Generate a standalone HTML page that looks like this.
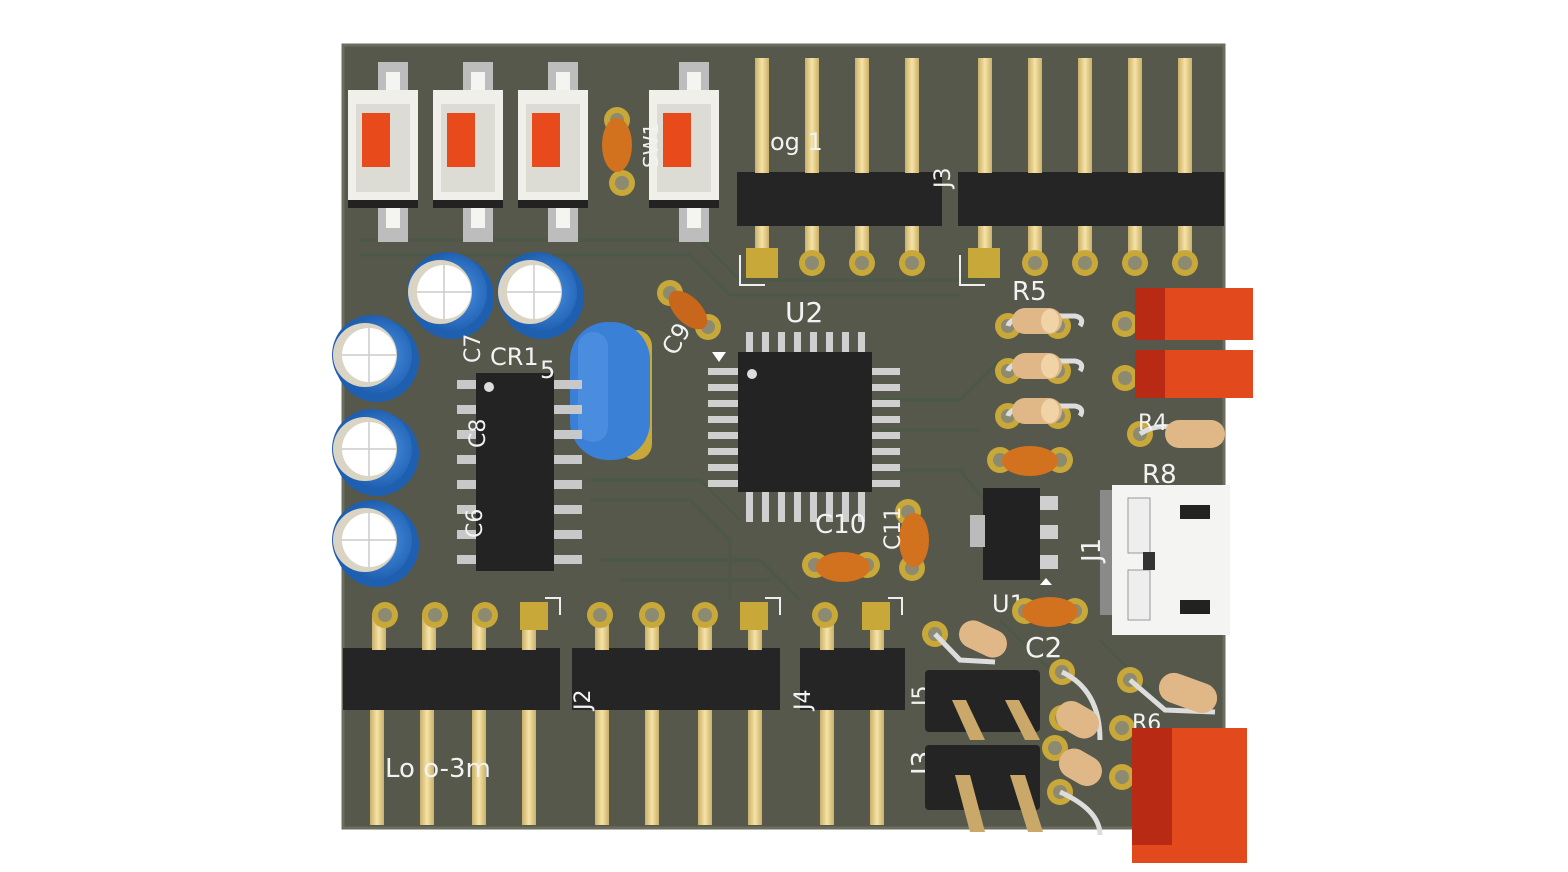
<!DOCTYPE html>
<html><head><style>
html,body{margin:0;padding:0;background:#fff;width:1568px;height:872px;overflow:hidden}
svg{display:block}
text{font-family:"DejaVu Sans","Liberation Sans",sans-serif;fill:#f2f2f2}
</style></head><body>
<svg width="1568" height="872" viewBox="0 0 1568 872" xmlns="http://www.w3.org/2000/svg">
<defs>
<linearGradient id="gold" x1="0" x2="1"><stop offset="0" stop-color="#c9b06a"/><stop offset=".5" stop-color="#f6e3a6"/><stop offset="1" stop-color="#c9b06a"/></linearGradient>
<radialGradient id="blue" cx=".6" cy=".5"><stop offset="0" stop-color="#4f97e8"/><stop offset="1" stop-color="#1f5fb0"/></radialGradient>
<g id="pad"><circle r="13" fill="#c9a83a"/><circle r="7" fill="#8c8a70"/></g>
</defs>
<!-- board -->
<rect x="343" y="45" width="881" height="783" fill="#55584a"/>
<rect x="343" y="45" width="881" height="783" fill="none" stroke="#6b6e5e" stroke-width="3"/>
<g stroke="#4a5a48" stroke-width="3" fill="none" opacity=".8">
<path d="M360 240 L700 240 L740 280 L980 280"/><path d="M360 255 L690 255 L730 295 L960 295"/>
<path d="M590 480 L700 480 L740 520"/><path d="M590 500 L690 500 L730 540 L730 600"/>
<path d="M600 560 L760 560 L800 600"/><path d="M620 580 L770 580"/>
<path d="M880 400 L960 400 L1000 360"/><path d="M880 430 L980 430"/><path d="M900 470 L960 470 L1000 520"/>
<path d="M1100 640 L1160 700 L1200 700"/><path d="M1000 620 L1060 680"/>
</g>
<!-- buttons -->
<g id="btn">
<rect x="378" y="62" width="30" height="30" fill="#bdbdbd"/><rect x="378" y="206" width="30" height="36" fill="#bdbdbd"/>
<rect x="386" y="72" width="14" height="20" fill="#f4f4f0"/><rect x="386" y="206" width="14" height="22" fill="#f4f4f0"/>
<rect x="348" y="90" width="70" height="116" fill="#f0efea"/>
<rect x="348" y="200" width="70" height="8" fill="#222"/>
<rect x="356" y="104" width="54" height="88" fill="#dcdbd4"/>
<rect x="362" y="113" width="28" height="54" fill="#e84a1c"/>
</g>
<use href="#btn" x="85"/><use href="#btn" x="170"/><use href="#btn" x="301"/>
<!-- small orange cap top -->
<use href="#pad" x="622" y="183"/><use href="#pad" x="617" y="120"/>
<ellipse cx="617" cy="145" rx="15" ry="27" fill="#d2711e"/>
<text x="632" y="178" font-size="20" transform="rotate(-90 640 160)">SW1</text>
<!-- top headers -->
<g>
<rect x="737" y="172" width="205" height="54" fill="#252525"/>
<rect x="958" y="172" width="266" height="54" fill="#252525"/>
<g fill="url(#gold)">
<rect x="755" y="58" width="14" height="115"/><rect x="805" y="58" width="14" height="115"/><rect x="855" y="58" width="14" height="115"/><rect x="905" y="58" width="14" height="115"/>
<rect x="978" y="58" width="14" height="115"/><rect x="1028" y="58" width="14" height="115"/><rect x="1078" y="58" width="14" height="115"/><rect x="1128" y="58" width="14" height="115"/><rect x="1178" y="58" width="14" height="115"/>
<rect x="755" y="226" width="14" height="36"/><rect x="805" y="226" width="14" height="36"/><rect x="855" y="226" width="14" height="36"/><rect x="905" y="226" width="14" height="36"/>
<rect x="978" y="226" width="14" height="36"/><rect x="1028" y="226" width="14" height="36"/><rect x="1078" y="226" width="14" height="36"/><rect x="1128" y="226" width="14" height="36"/><rect x="1178" y="226" width="14" height="36"/>
</g>
<rect x="746" y="248" width="32" height="30" fill="#c9a83a"/><rect x="968" y="248" width="32" height="30" fill="#c9a83a"/>
<use href="#pad" x="812" y="263"/><use href="#pad" x="862" y="263"/><use href="#pad" x="912" y="263"/>
<use href="#pad" x="1035" y="263"/><use href="#pad" x="1085" y="263"/><use href="#pad" x="1135" y="263"/><use href="#pad" x="1185" y="263"/>
<path d="M740 255 V285 H765" stroke="#eee" stroke-width="2" fill="none"/><path d="M960 255 V285 H985" stroke="#eee" stroke-width="2" fill="none"/>
<text x="770" y="150" font-size="24">og 1</text>
<text x="932" y="190" font-size="22" transform="rotate(-90 940 180)">J3</text>
</g>
<!-- electrolytic caps -->
<g id="ecap"><circle cx="452" cy="297" r="42" fill="#1f5fb0"/><circle cx="447" cy="292" r="40" fill="url(#blue)"/><circle cx="440" cy="292" r="32" fill="#d9d4c4"/><circle cx="444" cy="292" r="27" fill="#fff"/><path d="M444 265 V319 M417 292 H471" stroke="#ccc" stroke-width="1.5"/></g>
<use href="#ecap" x="90"/>
<use href="#ecap" x="-75" y="63"/><use href="#ecap" x="-75" y="157"/><use href="#ecap" x="-75" y="248"/>
<!-- blue crystal -->
<rect x="620" y="330" width="32" height="130" rx="16" fill="#c9a83a"/>
<rect x="570" y="322" width="80" height="138" rx="38" fill="#3a80d6"/>
<rect x="578" y="332" width="30" height="110" rx="15" fill="#5a9ae6" opacity=".5"/>
<!-- SOIC -->
<g fill="#c8c8c8">
<rect x="457" y="380" width="20" height="9"/><rect x="457" y="405" width="20" height="9"/><rect x="457" y="430" width="20" height="9"/><rect x="457" y="455" width="20" height="9"/><rect x="457" y="480" width="20" height="9"/><rect x="457" y="505" width="20" height="9"/><rect x="457" y="530" width="20" height="9"/><rect x="457" y="555" width="20" height="9"/>
<rect x="552" y="380" width="30" height="9"/><rect x="552" y="405" width="30" height="9"/><rect x="552" y="430" width="30" height="9"/><rect x="552" y="455" width="30" height="9"/><rect x="552" y="480" width="30" height="9"/><rect x="552" y="505" width="30" height="9"/><rect x="552" y="530" width="30" height="9"/><rect x="552" y="555" width="30" height="9"/>
</g>
<rect x="476" y="373" width="78" height="198" fill="#232323"/>
<circle cx="489" cy="387" r="5" fill="#ddd"/>
<text x="490" y="365" font-size="24">CR1</text><text x="540" y="378" font-size="24">5</text>
<text x="472" y="385" font-size="22" transform="rotate(-90 465 370)">C7</text>
<text x="472" y="475" font-size="22" transform="rotate(-90 465 455)">C8</text>
<text x="472" y="562" font-size="22" transform="rotate(-90 465 545)">C6</text>
<!-- C9 cap -->
<use href="#pad" x="670" y="293"/><use href="#pad" x="708" y="327"/>
<ellipse cx="688" cy="310" rx="13" ry="24" fill="#c8661c" transform="rotate(-45 688 310)"/>
<text x="660" y="360" font-size="24" transform="rotate(-60 665 345)">C9</text>
<!-- QFP -->
<g fill="#cfcfcf">
<rect x="746" y="332" width="7" height="22"/><rect x="762" y="332" width="7" height="22"/><rect x="778" y="332" width="7" height="22"/><rect x="794" y="332" width="7" height="22"/><rect x="810" y="332" width="7" height="22"/><rect x="826" y="332" width="7" height="22"/><rect x="842" y="332" width="7" height="22"/><rect x="858" y="332" width="7" height="22"/>
<rect x="746" y="490" width="7" height="32"/><rect x="762" y="490" width="7" height="32"/><rect x="778" y="490" width="7" height="32"/><rect x="794" y="490" width="7" height="32"/><rect x="810" y="490" width="7" height="32"/><rect x="826" y="490" width="7" height="32"/><rect x="842" y="490" width="7" height="32"/><rect x="858" y="490" width="7" height="32"/>
<rect x="708" y="368" width="32" height="7"/><rect x="708" y="384" width="32" height="7"/><rect x="708" y="400" width="32" height="7"/><rect x="708" y="416" width="32" height="7"/><rect x="708" y="432" width="32" height="7"/><rect x="708" y="448" width="32" height="7"/><rect x="708" y="464" width="32" height="7"/><rect x="708" y="480" width="32" height="7"/>
<rect x="870" y="368" width="30" height="7"/><rect x="870" y="384" width="30" height="7"/><rect x="870" y="400" width="30" height="7"/><rect x="870" y="416" width="30" height="7"/><rect x="870" y="432" width="30" height="7"/><rect x="870" y="448" width="30" height="7"/><rect x="870" y="464" width="30" height="7"/><rect x="870" y="480" width="30" height="7"/>
</g>
<rect x="738" y="352" width="134" height="140" fill="#232323"/>
<circle cx="752" cy="374" r="5" fill="#ddd"/>
<path d="M712 352 L726 352 L719 362Z" fill="#fff"/>
<text x="785" y="322" font-size="28">U2</text>
<!-- C10/C11 -->
<use href="#pad" x="815" y="565"/><use href="#pad" x="867" y="565"/>
<ellipse cx="843" cy="567" rx="27" ry="15" fill="#d2711e"/>
<use href="#pad" x="908" y="512"/><use href="#pad" x="912" y="568"/>
<ellipse cx="914" cy="540" rx="15" ry="27" fill="#d2711e"/>
<text x="815" y="533" font-size="26">C10</text>
<text x="870" y="560" font-size="22" transform="rotate(-90 880 540)">C11</text>
<!-- resistors right column -->
<g id="res">
<use href="#pad" x="1008" y="326"/><use href="#pad" x="1058" y="326"/>
<path d="M1008 326 Q1010 318 1030 316 L1075 316 Q1085 318 1080 326" stroke="#ddd" stroke-width="5" fill="none"/>
<rect x="1012" y="308" width="50" height="26" rx="13" fill="#e0b888"/>
<ellipse cx="1050" cy="321" rx="9" ry="12" fill="#f1d3a8"/>
</g>
<use href="#res" y="45"/><use href="#res" y="90"/>
<text x="1012" y="300" font-size="26">R5</text>
<use href="#pad" x="1000" y="460"/><use href="#pad" x="1060" y="460"/>
<ellipse cx="1030" cy="461" rx="28" ry="15" fill="#d2711e"/>
<!-- right top LEDs -->
<use href="#pad" x="1125" y="324"/><use href="#pad" x="1125" y="378"/>
<rect x="1135" y="288" width="118" height="52" fill="#e2491c"/><rect x="1135" y="288" width="30" height="52" fill="#b82a14"/>
<rect x="1135" y="350" width="118" height="48" fill="#e2491c"/><rect x="1135" y="350" width="30" height="48" fill="#b82a14"/>
<use href="#pad" x="1140" y="434"/>
<path d="M1140 434 Q1160 420 1190 432" stroke="#ddd" stroke-width="5" fill="none"/>
<rect x="1165" y="420" width="60" height="28" rx="14" fill="#e0b888"/>
<text x="1138" y="430" font-size="22">R4</text>
<text x="1142" y="483" font-size="26">R8</text>
<!-- U1 -->
<rect x="1040" y="496" width="18" height="14" fill="#cfcfcf"/><rect x="1040" y="525" width="18" height="14" fill="#cfcfcf"/><rect x="1040" y="555" width="18" height="14" fill="#cfcfcf"/>
<rect x="983" y="488" width="57" height="92" fill="#222"/>
<rect x="970" y="515" width="15" height="32" fill="#bbb"/>
<path d="M1040 585 L1052 585 L1046 578Z" fill="#fff"/>
<text x="992" y="612" font-size="24">U1</text>
<!-- C2 -->
<use href="#pad" x="1025" y="611"/><use href="#pad" x="1075" y="611"/>
<ellipse cx="1050" cy="612" rx="28" ry="15" fill="#d2711e"/>
<text x="1025" y="657" font-size="28">C2</text>
<!-- USB -->
<rect x="1100" y="490" width="20" height="125" fill="#8a8a8a"/>
<rect x="1112" y="485" width="118" height="150" fill="#f4f4f2"/>
<rect x="1180" y="505" width="30" height="14" fill="#222"/><rect x="1180" y="600" width="30" height="14" fill="#222"/>
<rect x="1128" y="498" width="22" height="55" fill="#eee" stroke="#999"/><rect x="1128" y="570" width="22" height="50" fill="#eee" stroke="#999"/>
<rect x="1143" y="552" width="12" height="18" fill="#333"/>
<text x="1078" y="570" font-size="26" transform="rotate(-90 1085 555)">J1</text>
<!-- bottom headers -->
<rect x="343" y="648" width="217" height="62" fill="#252525"/>
<rect x="572" y="648" width="208" height="62" fill="#252525"/>
<rect x="800" y="648" width="105" height="62" fill="#252525"/>
<g fill="url(#gold)">
<rect x="372" y="615" width="14" height="35"/><rect x="422" y="615" width="14" height="35"/><rect x="472" y="615" width="14" height="35"/><rect x="522" y="615" width="14" height="35"/>
<rect x="595" y="615" width="14" height="35"/><rect x="645" y="615" width="14" height="35"/><rect x="698" y="615" width="14" height="35"/><rect x="748" y="615" width="14" height="35"/>
<rect x="820" y="615" width="14" height="35"/><rect x="870" y="615" width="14" height="35"/>
<rect x="370" y="710" width="14" height="115"/><rect x="420" y="710" width="14" height="115"/><rect x="472" y="710" width="14" height="115"/><rect x="522" y="710" width="14" height="115"/>
<rect x="595" y="710" width="14" height="115"/><rect x="645" y="710" width="14" height="115"/><rect x="698" y="710" width="14" height="115"/><rect x="748" y="710" width="14" height="115"/>
<rect x="820" y="710" width="14" height="115"/><rect x="870" y="710" width="14" height="115"/>
</g>
<use href="#pad" x="385" y="615"/><use href="#pad" x="435" y="615"/><use href="#pad" x="485" y="615"/>
<rect x="520" y="602" width="28" height="28" fill="#c9a83a"/>
<use href="#pad" x="600" y="615"/><use href="#pad" x="652" y="615"/><use href="#pad" x="705" y="615"/>
<rect x="740" y="602" width="28" height="28" fill="#c9a83a"/>
<use href="#pad" x="825" y="615"/><rect x="862" y="602" width="28" height="28" fill="#c9a83a"/>
<path d="M545 598 H560 V615 M765 598 H780 V615 M888 598 H902 V615" stroke="#eee" stroke-width="2" fill="none"/>
<text x="385" y="777" font-size="26">Lo  o-3m</text>
<text x="575" y="715" font-size="22" transform="rotate(-90 580 705)">J2</text>
<text x="795" y="715" font-size="22" transform="rotate(-90 800 705)">J4</text>
<text x="912" y="710" font-size="22" transform="rotate(-90 918 700)">J5</text>
<text x="905" y="780" font-size="26" transform="rotate(-90 915 765)">J3</text>
<!-- J5/J3 -->
<use href="#pad" x="935" y="634"/>
<path d="M935 634 L960 660 L995 662" stroke="#ddd" stroke-width="5" fill="none"/>
<rect x="958" y="625" width="50" height="28" rx="14" fill="#e0b888" transform="rotate(25 983 639)"/>
<rect x="925" y="670" width="115" height="62" rx="4" fill="#242424"/>
<rect x="925" y="745" width="115" height="65" rx="4" fill="#242424"/>
<g fill="#c9a86a">
<path d="M952 700 L966 700 L985 740 L970 740Z"/><path d="M1005 700 L1019 700 L1040 740 L1025 740Z"/>
<path d="M955 775 L970 775 L985 832 L970 832Z"/><path d="M1010 775 L1025 775 L1043 832 L1028 832Z"/>
</g>
<!-- bottom right resistors -->
<use href="#pad" x="1062" y="672"/><use href="#pad" x="1062" y="718"/><use href="#pad" x="1055" y="748"/><use href="#pad" x="1060" y="792"/>
<path d="M1062 672 Q1100 690 1100 740" stroke="#ddd" stroke-width="5" fill="none"/>
<path d="M1060 792 Q1100 810 1100 835" stroke="#ddd" stroke-width="5" fill="none"/>
<rect x="1055" y="705" width="45" height="30" rx="15" fill="#e0b888" transform="rotate(30 1078 720)"/>
<rect x="1058" y="752" width="45" height="30" rx="15" fill="#e0b888" transform="rotate(30 1080 767)"/>
<use href="#pad" x="1130" y="680"/><use href="#pad" x="1122" y="728"/><use href="#pad" x="1122" y="777"/>
<path d="M1130 680 L1165 710 L1215 712" stroke="#ddd" stroke-width="5" fill="none"/>
<rect x="1158" y="678" width="60" height="30" rx="15" fill="#e0b888" transform="rotate(20 1188 693)"/>
<text x="1132" y="730" font-size="22">R6</text>
<rect x="1132" y="728" width="115" height="72" fill="#e2491c"/><rect x="1132" y="728" width="40" height="60" fill="#b82a14"/>
<rect x="1132" y="785" width="115" height="78" fill="#e2491c"/><rect x="1132" y="785" width="40" height="60" fill="#b82a14"/>
</svg>
</body></html>
